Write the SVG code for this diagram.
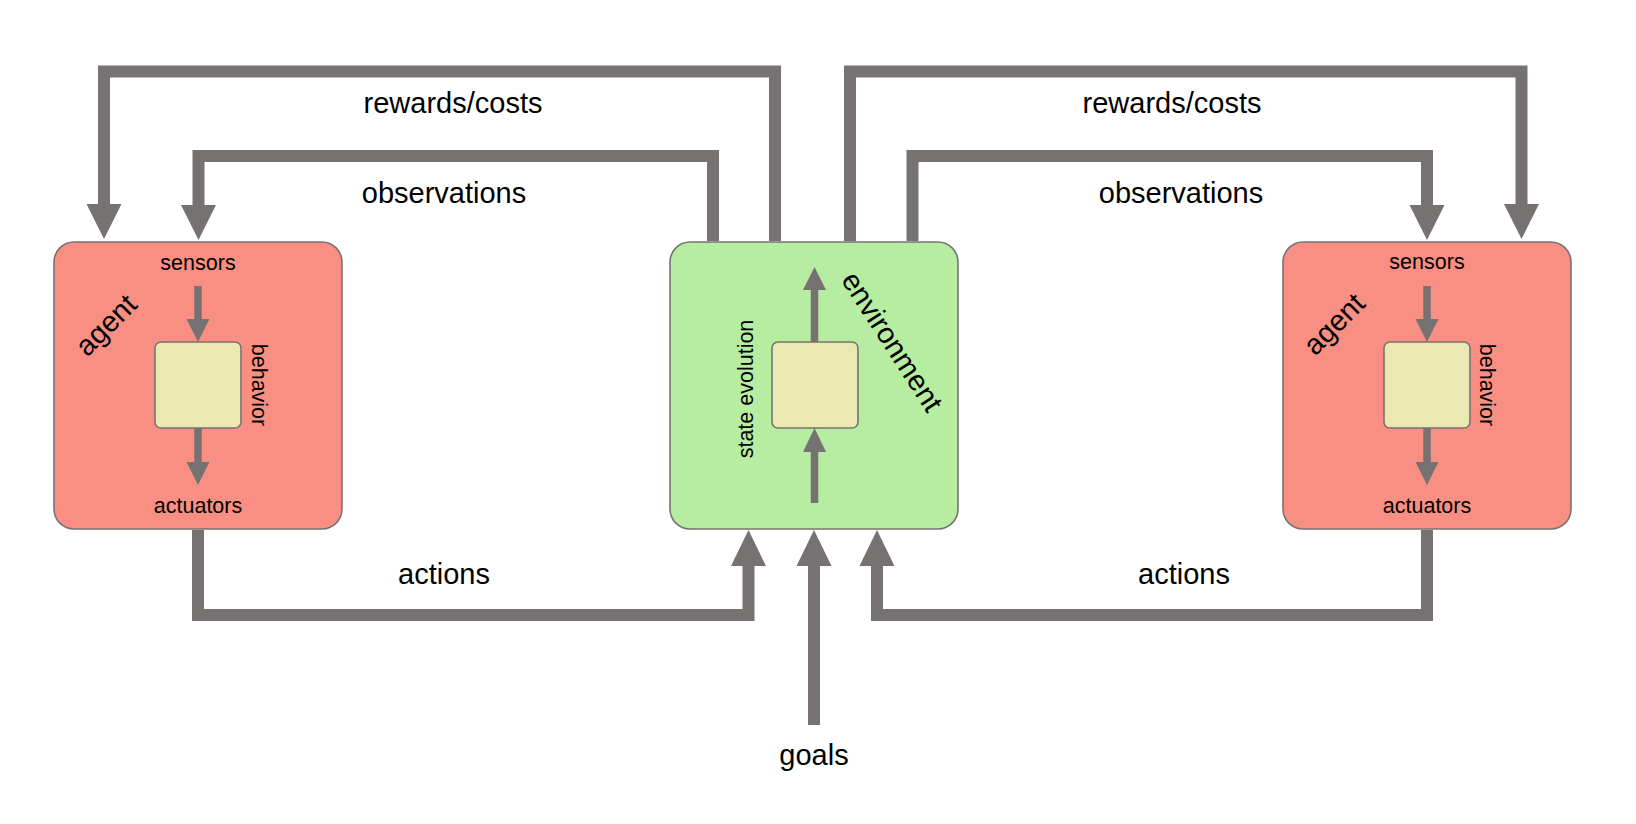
<svg xmlns="http://www.w3.org/2000/svg" width="1636" height="824" viewBox="0 0 1636 824">
<style>
.box{stroke:#777372;stroke-width:1.6}
.agent{fill:#F98F83}
.env{fill:#B6EDA1}
.inner{fill:#EBE9B2;stroke:#777372;stroke-width:1.6}
.wire{fill:none;stroke:#767271;stroke-width:12;stroke-linejoin:miter;stroke-linecap:butt}
.thin{fill:none;stroke:#767271;stroke-width:7.5;stroke-linecap:butt}
.head{fill:#767271;stroke:none}
.big{font-family:"Liberation Sans",Arial,sans-serif;font-size:29px;fill:#000;text-anchor:middle}
.small{font-family:"Liberation Sans",Arial,sans-serif;font-size:21.5px;fill:#000;text-anchor:middle}
</style>
<rect width="1636" height="824" fill="#fff"/>

<g id="agent-left">
<rect class="box agent" x="54" y="242" width="288" height="287" rx="20"/>
<rect class="inner" x="155" y="342" width="86" height="86" rx="6"/>
<text class="small" x="198" y="270">sensors</text>
<text class="small" x="198" y="513">actuators</text>
<text class="small" transform="translate(252,385) rotate(90)">behavior</text>
<text class="big" transform="translate(113,332) rotate(-45)">agent</text>
</g>

<g id="environment">
<rect class="box env" x="670" y="242" width="288" height="287" rx="20"/>
<rect class="inner" x="772" y="342" width="86" height="86" rx="6"/>
<text class="small" transform="translate(753,389) rotate(-90)">state evolution</text>
<text class="big" transform="translate(884,347) rotate(57)">environment</text>
</g>

<g id="agent-right">
<rect class="box agent" x="1283" y="242" width="288" height="287" rx="20"/>
<rect class="inner" x="1384" y="342" width="86" height="86" rx="6"/>
<text class="small" x="1427" y="269">sensors</text>
<text class="small" x="1427" y="513">actuators</text>
<text class="small" transform="translate(1480,385) rotate(90)">behavior</text>
<text class="big" transform="translate(1341,331) rotate(-45)">agent</text>
</g>

<g id="connectors">
<path class="wire" d="M775,241 V71.5 H104 V204"/>
<polygon class="head" points="86.5,204 121.5,204 104,239"/>
<path class="wire" d="M713,241 V156 H198.5 V205"/>
<polygon class="head" points="181,205 216,205 198.5,240"/>
<path class="wire" d="M850,241 V71.5 H1521.5 V204"/>
<polygon class="head" points="1504,204 1539,204 1521.5,239"/>
<path class="wire" d="M912.5,241 V156 H1427 V205"/>
<polygon class="head" points="1409.5,205 1444.5,205 1427,240"/>
<path class="wire" d="M198,530 V615 H748.5 V566"/>
<polygon class="head" points="731,566 766,566 748.5,530"/>
<path class="wire" d="M1427,530 V615 H877 V566"/>
<polygon class="head" points="859.5,566 894.5,566 877,530"/>
<path class="wire" d="M814,725 V566"/>
<polygon class="head" points="796.5,566 831.5,566 814,530"/>
<path class="thin" d="M198,286 V320"/>
<polygon class="head" points="186.5,319 209.5,319 198,342"/>
<path class="thin" d="M198,428 V463"/>
<polygon class="head" points="186.5,462 209.5,462 198,485"/>
<path class="thin" d="M1427,286 V320"/>
<polygon class="head" points="1415.5,319 1438.5,319 1427,342"/>
<path class="thin" d="M1427,428 V463"/>
<polygon class="head" points="1415.5,462 1438.5,462 1427,485"/>
<path class="thin" d="M814.5,342 V289"/>
<polygon class="head" points="803,290 826,290 814.5,267"/>
<path class="thin" d="M814.5,503 V451"/>
<polygon class="head" points="803,452 826,452 814.5,428"/>
</g>

<g id="labels">
<text class="big" x="453" y="113">rewards/costs</text>
<text class="big" x="444" y="203">observations</text>
<text class="big" x="444" y="584">actions</text>
<text class="big" x="1172" y="113">rewards/costs</text>
<text class="big" x="1181" y="203">observations</text>
<text class="big" x="1184" y="584">actions</text>
<text class="big" x="814" y="765">goals</text>
</g>
</svg>
